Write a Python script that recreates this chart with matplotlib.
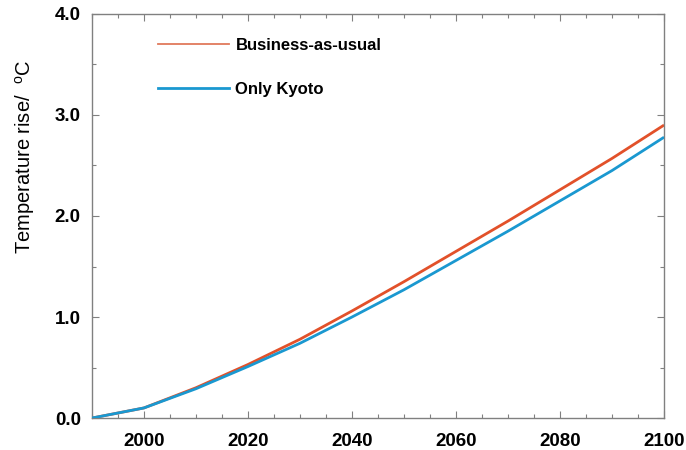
import matplotlib
matplotlib.use("Agg")
import matplotlib.pyplot as plt
from matplotlib.lines import Line2D
from matplotlib.ticker import MultipleLocator

plt.rcParams['font.family'] = ['Liberation Sans', 'DejaVu Sans']
plt.rcParams['mathtext.fontset'] = 'custom'
plt.rcParams['mathtext.rm'] = 'Liberation Sans'

# temperature rise projections, degC
years = [1990, 2000, 2010, 2020, 2030, 2040, 2050, 2060, 2070, 2080, 2090, 2100]
bau = [0.0, 0.10, 0.30, 0.53, 0.78, 1.06, 1.35, 1.65, 1.95, 2.26, 2.57, 2.90]
kyoto = [0.0, 0.10, 0.29, 0.51, 0.74, 1.00, 1.27, 1.56, 1.85, 2.15, 2.45, 2.78]
labels = ['Business-as-usual', 'Only Kyoto']

red = '#e2512a'
blue = '#1a98d0'
grey = '#808080'

fig = plt.figure(figsize=(6.86, 4.5), dpi=100)
ax = fig.add_axes([0.134, 0.071, 0.834, 0.898])

ax.plot(years, bau, color=red, lw=2.0, solid_capstyle='butt', zorder=2)
ax.plot(years, kyoto, color=blue, lw=2.0, solid_capstyle='butt', zorder=3)

ax.set_xlim(1990, 2100)
ax.set_ylim(0, 4.0)
ax.xaxis.set_minor_locator(MultipleLocator(5))
ax.yaxis.set_major_locator(MultipleLocator(1.0))
ax.yaxis.set_minor_locator(MultipleLocator(0.5))
ax.set_xticks([2000, 2020, 2040, 2060, 2080, 2100])
ax.set_yticklabels([f'{v:.1f}' for v in ax.get_yticks()])

for s in ax.spines.values():
    s.set_color(grey)
    s.set_linewidth(1.0)

ax.tick_params(which='both', direction='in', top=True, right=True, color=grey, width=0.8)
ax.tick_params(which='major', length=5, labelsize=13.5)
ax.tick_params(which='minor', length=3)
ax.tick_params(axis='x', which='major', pad=11)
ax.tick_params(axis='y', which='major', pad=8)
for t in ax.get_xticklabels() + ax.get_yticklabels():
    t.set_fontweight('bold')

# y-axis title sits above the axis centre
fig.text(25 / 686, 1 - 157 / 450, 'Temperature rise/  $^{\\mathrm{o}}$C',
         rotation=90, ha='center', va='center', fontsize=14.5)

handles = [Line2D([], [], color='#e07a5c', lw=1.3),
           Line2D([], [], color=blue, lw=2.0)]
leg = ax.legend(handles, labels, loc='upper left', bbox_to_anchor=(0.115, 0.94),
                frameon=False, handlelength=4.3, handletextpad=0.36,
                labelspacing=1.7, borderpad=0, borderaxespad=0,
                prop={'weight': 'bold', 'size': 12})

fig.savefig('out.png', dpi=100)
